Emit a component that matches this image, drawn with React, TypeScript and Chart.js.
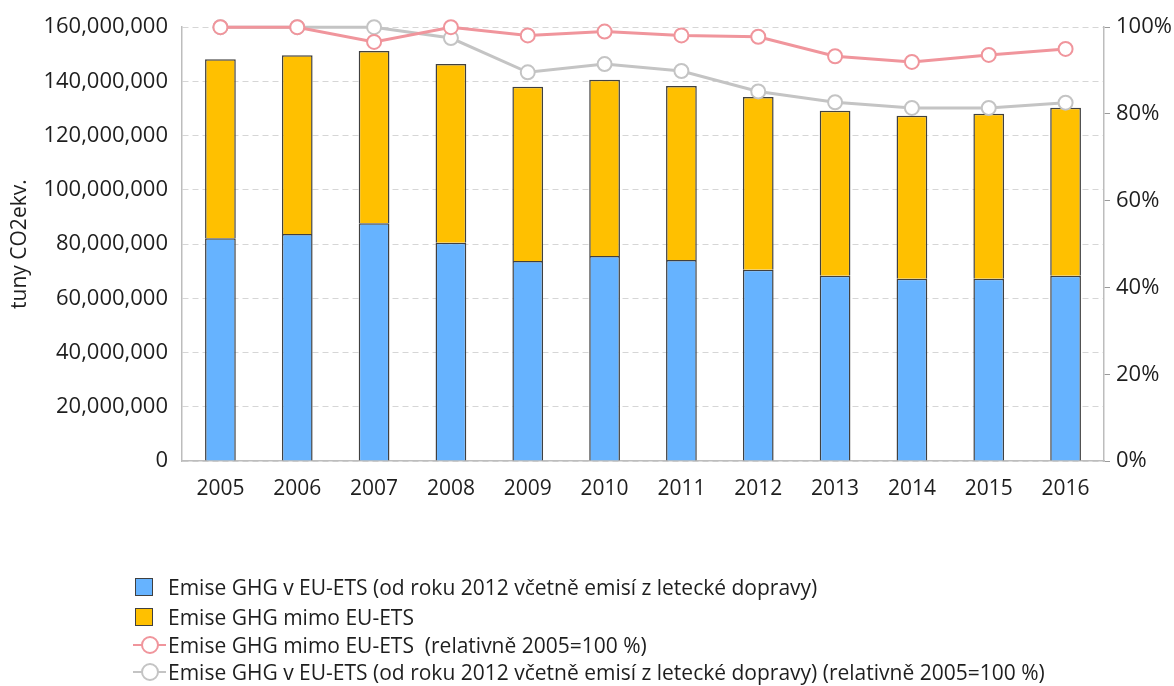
import React, { useEffect, useRef } from "react";
import { Chart, registerables } from "chart.js";

Chart.register(...registerables);

const years = ["2005", "2006", "2007", "2008", "2009", "2010", "2011", "2012", "2013", "2014", "2015", "2016"];
const etsEmissions = [82200000, 83700000, 87700000, 80500000, 73800000, 75600000, 74100000, 70500000, 68300000, 67200000, 67200000, 68300000];
const nonEtsEmissions = [66000000, 66000000, 63500000, 65900000, 64200000, 65000000, 64200000, 63800000, 60900000, 60100000, 60900000, 62000000];
const nonEtsRelative = [100, 100, 96.6, 100, 98.1, 99.0, 98.1, 97.8, 93.3, 92.0, 93.6, 95.0];
const etsRelative = [100, 100, 100, 97.5, 89.6, 91.5, 89.9, 85.2, 82.7, 81.4, 81.4, 82.6];
const leftTicks = [0, 20000000, 40000000, 60000000, 80000000, 100000000, 120000000, 140000000, 160000000];
const rightTicks = [0, 20, 40, 60, 80, 100];

const legendLabels = [
  "Emise GHG v EU-ETS (od roku 2012 včetně emisí z letecké dopravy)",
  "Emise GHG mimo EU-ETS",
  "Emise GHG mimo EU-ETS  (relativně 2005=100 %)",
  "Emise GHG v EU-ETS (od roku 2012 včetně emisí z letecké dopravy) (relativně 2005=100 %)",
];
const yTitle = "tuny CO2ekv.";

const FONT = "'Open Sans', 'DejaVu Sans', sans-serif";
const BLUE = "#66B3FF";
const ORANGE = "#FFC000";
const BAR_BORDER = "#404040";
const RED = "#F0959C";
const GREY = "#C4C4C4";
const TEXT = "#1e1e1e";

function LegendMarker({ kind, color }: { kind: string; color: string }) {
  if (kind === "box") {
    return (
      <div style={{ position: "absolute", left: 0, top: 3, width: 18, height: 18, background: color, border: `1.5px solid ${BAR_BORDER}`, boxSizing: "border-box" }} />
    );
  }
  return (
    <div style={{ position: "absolute", left: -2, top: 0, width: 34, height: 24 }}>
      <div style={{ position: "absolute", left: 0, top: 11, width: 33, height: 2, background: color }} />
      <div style={{ position: "absolute", left: 8, top: 3, width: 18, height: 18, borderRadius: "50%", background: "#fff", border: `2px solid ${color}`, boxSizing: "border-box" }} />
    </div>
  );
}

export default function App() {
  const canvasRef = useRef<HTMLCanvasElement | null>(null);

  useEffect(() => {
    document.body.style.margin = "0";
    const ctx = canvasRef.current;
    if (!ctx) return;
    const chart = new Chart(ctx, {
      type: "bar",
      data: {
        labels: years,
        datasets: [
          {
            type: "line",
            label: legendLabels[2],
            data: nonEtsRelative,
            yAxisID: "y1",
            borderColor: RED,
            borderWidth: 3,
            pointRadius: 7,
            pointBorderWidth: 2,
            pointBackgroundColor: "#fff",
            pointBorderColor: RED,
            tension: 0,
            clip: false,
            order: 0,
          } as any,
          {
            type: "line",
            label: legendLabels[3],
            data: etsRelative,
            yAxisID: "y1",
            borderColor: GREY,
            borderWidth: 3,
            pointRadius: 7,
            pointBorderWidth: 2,
            pointBackgroundColor: "#fff",
            pointBorderColor: GREY,
            tension: 0,
            clip: false,
            order: 1,
          } as any,
          {
            type: "bar",
            label: legendLabels[0],
            data: etsEmissions,
            yAxisID: "y",
            backgroundColor: BLUE,
            borderColor: BAR_BORDER,
            borderWidth: 1.5,
            categoryPercentage: 0.8,
            barPercentage: 0.5,
            stack: "s",
            order: 2,
          },
          {
            type: "bar",
            label: legendLabels[1],
            data: nonEtsEmissions,
            yAxisID: "y",
            backgroundColor: ORANGE,
            borderColor: BAR_BORDER,
            borderWidth: 1.5,
            categoryPercentage: 0.8,
            barPercentage: 0.5,
            stack: "s",
            order: 2,
          },
        ],
      },
      options: {
        responsive: false,
        animation: false,
        layout: { padding: { top: 25, bottom: 175, left: 0, right: 0 } },
        plugins: { legend: { display: false }, tooltip: { enabled: false } },
        scales: {
          x: {
            stacked: true,
            grid: { display: false, drawTicks: false },
            border: { display: true, color: "#BDBDBD", width: 1.5 },
            ticks: { color: TEXT, font: { family: FONT, size: 21 }, padding: 15 },
            afterFit: (s: any) => { s.height = 50; },
          },
          y: {
            stacked: true,
            position: "left",
            min: 0,
            max: 160000000,
            afterBuildTicks: (s: any) => { s.ticks = leftTicks.map((v) => ({ value: v })); },
            grid: { color: "#D6D6D6", lineWidth: 1, drawTicks: false },
            border: { display: true, color: "#BDBDBD", width: 1.5, dash: [6, 4] },
            ticks: {
              color: TEXT,
              font: { family: FONT, size: 22 },
              padding: 14,
              callback: (v: any) => Number(v).toLocaleString("en-US"),
            },
            title: { display: true, text: yTitle, color: TEXT, font: { family: FONT, size: 21 }, padding: { top: 7, bottom: 0 } },
            afterFit: (s: any) => { s.width = 182; },
          },
          y1: {
            position: "right",
            min: 0,
            max: 100,
            afterBuildTicks: (s: any) => { s.ticks = rightTicks.map((v) => ({ value: v })); },
            grid: { drawOnChartArea: false, drawTicks: true, tickLength: 6, tickColor: "#9a9a9a", color: "#9a9a9a" },
            border: { display: true, color: "#BDBDBD", width: 1.5 },
            ticks: { color: TEXT, font: { family: FONT, size: 22 }, padding: 6, callback: (v: any) => `${v}%` },
            afterFit: (s: any) => { s.width = 70; },
          },
        },
      },
    });
    return () => chart.destroy();
  }, []);

  const rowTops = [575, 605, 633, 660];
  const kinds = [
    { kind: "box", color: BLUE },
    { kind: "box", color: ORANGE },
    { kind: "line", color: RED },
    { kind: "line", color: GREY },
  ];

  return (
    <div style={{ position: "relative", width: 1174, height: 686, background: "#fff", overflow: "hidden" }}>
      <canvas ref={canvasRef} width={1174} height={686} style={{ position: "absolute", left: 0, top: 0 }} />
      {legendLabels.map((label, i) => (
        <div key={i} style={{ position: "absolute", left: 135, top: rowTops[i], height: 24, whiteSpace: "pre", fontFamily: FONT, fontSize: 21, lineHeight: "24px", color: TEXT }}>
          <LegendMarker kind={kinds[i].kind} color={kinds[i].color} />
          <span style={{ position: "absolute", left: 33, top: 0 }}>{label}</span>
        </div>
      ))}
    </div>
  );
}
